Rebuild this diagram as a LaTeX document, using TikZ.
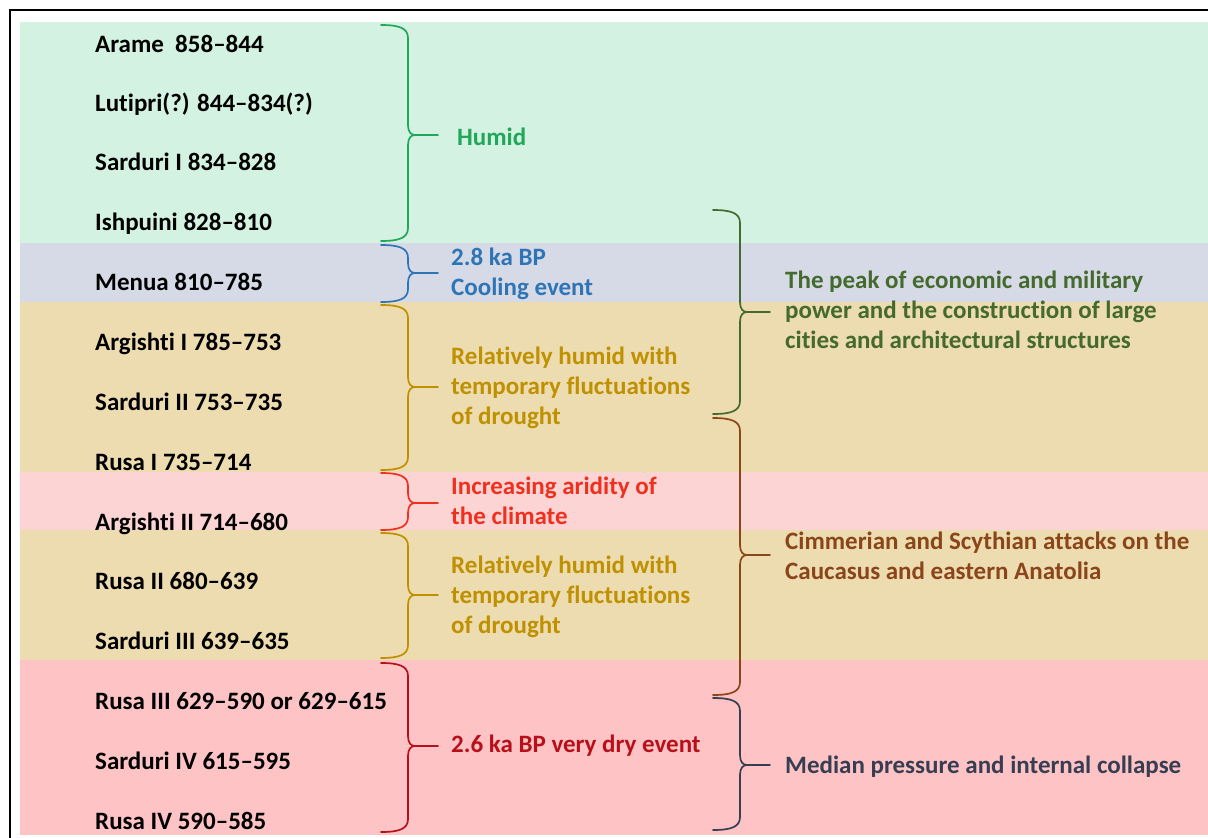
\documentclass[tikz,border=0pt]{standalone}
\usepackage{fontspec}
\setmainfont{Carlito}[Ligatures={NoCommon}]
\definecolor{bgreen}{HTML}{D3F2E2}
\definecolor{bgrey}{HTML}{D6D9E6}
\definecolor{btan}{HTML}{ECDCAF}
\definecolor{blpink}{HTML}{FDD4D4}
\definecolor{bpink}{HTML}{FEC3C5}
\definecolor{cgreen}{HTML}{21A75A}
\definecolor{cblue}{HTML}{2E75B6}
\definecolor{cgold}{HTML}{BF9000}
\definecolor{cred}{HTML}{F0301E}
\definecolor{cdred}{HTML}{B8101A}
\definecolor{cdgreen}{HTML}{456A2E}
\definecolor{cbrown}{HTML}{8A451A}
\definecolor{cslate}{HTML}{373E52}
\newcommand{\stt}{\vrule height22pt depth8pt width0pt}
\newcommand{\mybrace}[5]{%
\begin{scope}[xshift=#2]
\draw[brc,#1] (0,#3) .. controls (18,#3) and (27,#3+3) .. (27,#3+13) -- (27,#5-10)
  .. controls (27,#5-3) and (30,#5) .. (34,#5) -- (57,#5)
  (34,#5) .. controls (30,#5) and (27,#5+3) .. (27,#5+10) -- (27,#4-13)
  .. controls (27,#4-3) and (18,#4) .. (0,#4);
\end{scope}}
\begin{document}
\begin{tikzpicture}[x=1pt,y=-1pt,
  lab/.style={anchor=west, inner sep=0pt, align=left, font=\bfseries\fontsize{25}{30}\selectfont},
  brc/.style={line width=1.7pt, line join=round, line cap=round}]
\useasboundingbox (0,0) rectangle (1208,838);
\fill[white] (0,0) rectangle (1208,838);
% bands
\fill[bgreen] (20,22) rectangle (1208,243);
\fill[bgrey] (20,243) rectangle (1208,302);
\fill[btan] (20,302) rectangle (1208,472);
\fill[blpink] (20,472) rectangle (1208,530);
\fill[btan] (20,530) rectangle (1208,660);
\fill[bpink] (20,660) rectangle (1208,835);
% frame
\draw[line width=1.5pt] (10,845) -- (10,10) -- (1215,10);
% rulers
\node[lab] (r1) at (95,45) {\stt Arame\ \ 858–844};
\node[lab] (r2) at (95,104) {\stt Lutipri(?) 844–834(?)};
\node[lab] (r3) at (95,163) {\stt Sarduri I 834–828};
\node[lab] (r4) at (95,223) {\stt Ishpuini 828–810};
\node[lab] (r5) at (95,283) {\stt Menua 810–785};
\node[lab] (r6) at (95,343) {\stt Argishti I 785–753};
\node[lab] (r7) at (95,403) {\stt Sarduri II 753–735};
\node[lab] (r8) at (95,463) {\stt Rusa I 735–714};
\node[lab] (r9) at (95,523) {\stt Argishti II 714–680};
\node[lab] (r10) at (95,582) {\stt Rusa II 680–639};
\node[lab] (r11) at (95,642) {\stt Sarduri III 639–635};
\node[lab] (r12) at (95,702) {\stt Rusa III 629–590 or 629–615};
\node[lab] (r13) at (95,762) {\stt Sarduri IV 615–595};
\node[lab] (r14) at (95,822) {\stt Rusa IV 590–585};
% climate braces
\mybrace{cgreen}{381}{25}{241}{135}
\mybrace{cblue}{381}{245}{302}{273}
\mybrace{cgold}{381}{305}{470}{387}
\mybrace{cred}{381}{473}{530}{503}
\mybrace{cgold}{381}{533}{658}{595}
\mybrace{cdred}{381}{663}{832}{746}
% climate labels
\node[lab,cgreen] (c1) at (457,138) {\stt Humid};
\node[lab,cblue] (c2) at (451,273.5) {\stt 2.8 ka BP\\\stt Cooling event};
\node[lab,cgold] (c3) at (451,387) {\stt Relatively humid with\\\stt temporary fluctuations\\\stt of drought};
\node[lab,cred] (c4) at (451,502) {\stt Increasing aridity of\\\stt the climate};
\node[lab,cgold] (c5) at (451,596) {\stt Relatively humid with\\\stt temporary fluctuations\\\stt of drought};
\node[lab,cdred] (c6) at (451,745) {\stt 2.6 ka BP very dry event};
% history braces
\mybrace{cdgreen}{713}{210}{414}{312}
\mybrace{cbrown}{713}{418}{695}{555}
\mybrace{cslate}{713}{698}{830}{765}
% history labels
\node[lab,cdgreen] (h1) at (785,311) {\stt The peak of economic and military\\\stt power and the construction of large\\\stt cities and architectural structures};
\node[lab,cbrown] (h2) at (785,557) {\stt Cimmerian and Scythian attacks on the\\\stt Caucasus and eastern Anatolia};
\node[lab,cslate] (h3) at (785,766) {\stt Median pressure and internal collapse};
\end{tikzpicture}
\end{document}
